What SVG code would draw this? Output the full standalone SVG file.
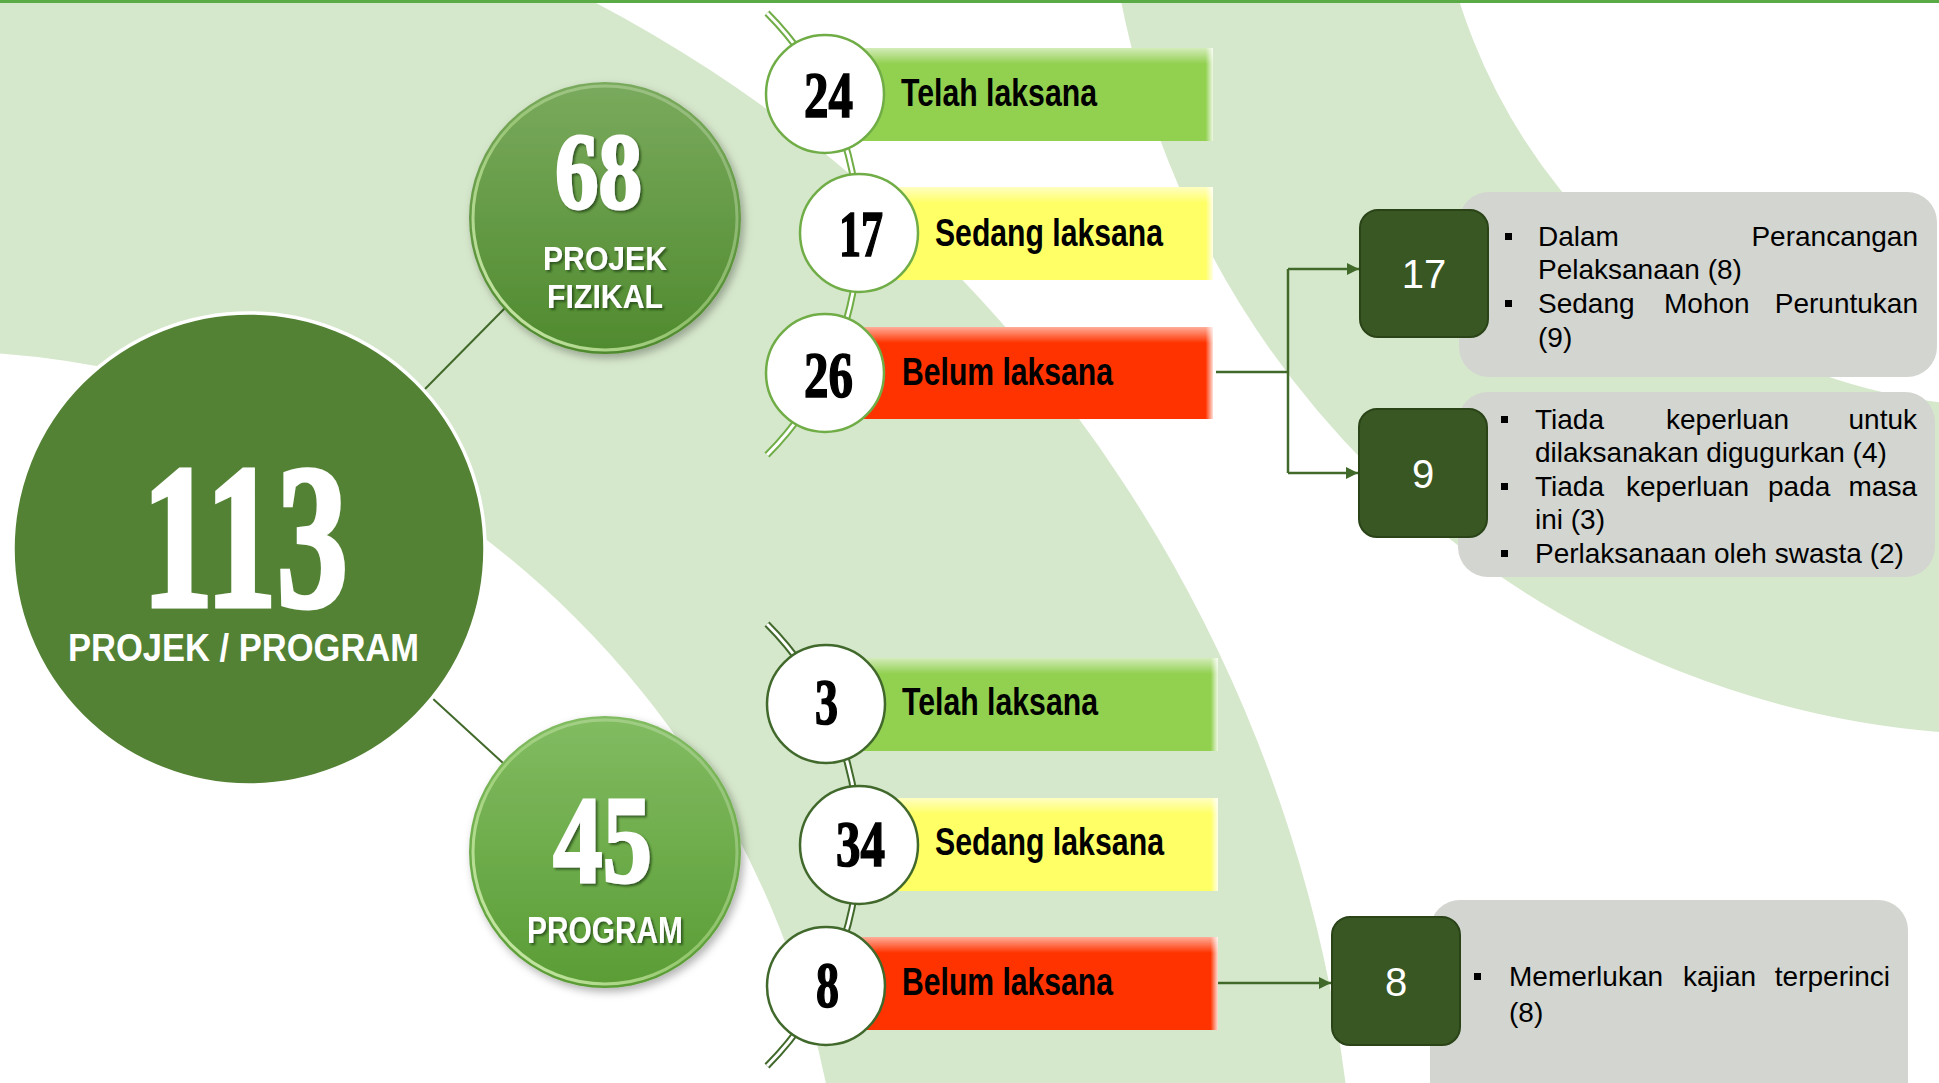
<svg xmlns="http://www.w3.org/2000/svg" width="1939" height="1083" viewBox="0 0 1939 1083">
<style>
.bg{fill:none;stroke:#d6e8cc}
.lbl{font-family:"Liberation Sans",Arial,sans-serif;font-weight:bold;font-size:39px;fill:#000}
.num{font-family:"Liberation Serif","Times New Roman",serif;font-weight:bold;font-size:65px;fill:#000;stroke:#000;stroke-width:1.6}
.big{font-family:"Liberation Serif","Times New Roman",serif;font-weight:bold;fill:#fff;stroke:#fff}
.cap{font-family:"Liberation Sans",Arial,sans-serif;font-weight:bold;fill:#fff}
.ncirT{fill:#fff;stroke:#70ad47;stroke-width:2.5}
.ncirB{fill:#fff;stroke:#41692c;stroke-width:2.5}
.box{fill:#385723;stroke:#2a4418;stroke-width:2}
.boxt{font-family:"Liberation Sans",Arial,sans-serif;font-size:40px;fill:#fff;text-anchor:middle}
.note{fill:#d3d5d0}
.nt{font-family:"Liberation Sans",Arial,sans-serif;font-size:28px;fill:#000}
.end{text-anchor:end}
.conn{stroke:#41692a;stroke-width:2.5;fill:none}
.link{stroke:#41692a;stroke-width:2;fill:none}
</style>
<defs>
<linearGradient id="g68" x1="0" y1="0" x2="0" y2="1"><stop offset="0" stop-color="#7aaa5d"/><stop offset="1" stop-color="#4f8a2e"/></linearGradient>
<linearGradient id="g45" x1="0" y1="0" x2="0" y2="1"><stop offset="0" stop-color="#82bc62"/><stop offset="1" stop-color="#5a9c35"/></linearGradient>
<linearGradient id="rim" x1="0" y1="1" x2="1" y2="0"><stop offset="0" stop-color="#e0f8c0" stop-opacity="0.95"/><stop offset="0.5" stop-color="#b8e290" stop-opacity="0.55"/><stop offset="1" stop-color="#ffffff" stop-opacity="0.15"/></linearGradient>
<linearGradient id="bevT" x1="0" y1="0" x2="0" y2="1"><stop offset="0" stop-color="#fff" stop-opacity="0.6"/><stop offset="1" stop-color="#fff" stop-opacity="0"/></linearGradient>
<linearGradient id="bevR" x1="0" y1="0" x2="1" y2="0"><stop offset="0" stop-color="#fff" stop-opacity="0.05"/><stop offset="1" stop-color="#fff" stop-opacity="0.85"/></linearGradient>
<filter id="sh" x="-20%" y="-20%" width="140%" height="140%"><feDropShadow dx="3" dy="4" stdDeviation="4" flood-color="#000" flood-opacity="0.3"/></filter>
<filter id="ts" x="-10%" y="-20%" width="130%" height="150%"><feDropShadow dx="2" dy="2" stdDeviation="1" flood-color="#1d3a10" flood-opacity="0.7"/></filter>
<marker id="arr" viewBox="0 0 10 10" refX="10" refY="5" markerWidth="5" markerHeight="5" orient="auto" markerUnits="strokeWidth"><path d="M0,0 L10,5 L0,10 z" fill="#41692a"/></marker>
</defs>

<rect x="0" y="0" width="1939" height="1083" fill="#fff"/>
<g id="background">
<circle class="bg" cx="-70" cy="1265" r="1170.5" stroke-width="513"/>
<circle class="bg" cx="2014" cy="-175" r="746" stroke-width="328"/>
<rect x="0" y="0" width="1939" height="3" fill="#5aab46"/>
</g>

<g id="connectors">
<line class="link" x1="425" y1="389" x2="505" y2="308"/>
<line class="link" x1="431" y1="697" x2="503" y2="763"/>
<path d="M767,13 A313,313 0 0 1 767,455" fill="none" stroke="#70ad47" stroke-width="7"/>
<path d="M767,13 A313,313 0 0 1 767,455" fill="none" stroke="#fff" stroke-width="3"/>
<path d="M767,624 A313,313 0 0 1 767,1066" fill="none" stroke="#41692c" stroke-width="7"/>
<path d="M767,624 A313,313 0 0 1 767,1066" fill="none" stroke="#fff" stroke-width="3"/>
<polyline class="conn" points="1216,372 1288,372"/>
<polyline class="conn" points="1288,269 1288,473"/>
<line class="conn" x1="1288" y1="269" x2="1359" y2="269" marker-end="url(#arr)"/>
<line class="conn" x1="1288" y1="473" x2="1358" y2="473" marker-end="url(#arr)"/>
<line class="conn" x1="1218" y1="983" x2="1331" y2="983" marker-end="url(#arr)"/>
</g>

<g id="node-113">
<circle cx="249" cy="549" r="236" fill="#548235" stroke="#fff" stroke-width="3.5"/>
<text class="big" x="142" y="606" font-size="205" stroke-width="5" textLength="206" lengthAdjust="spacingAndGlyphs">113</text>
<text class="cap" x="68" y="661" font-size="39" textLength="351" lengthAdjust="spacingAndGlyphs">PROJEK / PROGRAM</text>
</g>

<g id="node-68">
<circle cx="605" cy="218" r="136" fill="url(#g68)" filter="url(#sh)"/>
<circle cx="605" cy="218" r="132" fill="none" stroke="url(#rim)" stroke-width="3"/>
<g filter="url(#ts)">
<text class="big" x="555" y="208" font-size="108" stroke-width="3" textLength="87" lengthAdjust="spacingAndGlyphs">68</text>
<text class="cap" x="543" y="270" font-size="33" textLength="124" lengthAdjust="spacingAndGlyphs">PROJEK</text>
<text class="cap" x="547" y="308" font-size="33" textLength="116" lengthAdjust="spacingAndGlyphs">FIZIKAL</text>
</g>
</g>

<g id="node-45">
<circle cx="605" cy="852" r="136" fill="url(#g45)" filter="url(#sh)"/>
<circle cx="605" cy="852" r="132" fill="none" stroke="url(#rim)" stroke-width="3"/>
<g filter="url(#ts)">
<text class="big" x="553" y="882" font-size="124" stroke-width="3" textLength="99" lengthAdjust="spacingAndGlyphs">45</text>
<text class="cap" x="527" y="943" font-size="36" textLength="156" lengthAdjust="spacingAndGlyphs">PROGRAM</text>
</g>
</g>

<g id="fiz-telah">
<rect x="860" y="48" width="353" height="93" fill="#92d050"/>
<rect x="860" y="48" width="353" height="16" fill="url(#bevT)"/>
<rect x="1206" y="48" width="7" height="93" fill="url(#bevR)"/>
<circle class="ncirT" cx="825" cy="94" r="59"/>
<text class="num" x="804" y="117" textLength="49" lengthAdjust="spacingAndGlyphs">24</text>
<text class="lbl" x="901" y="106" textLength="196" lengthAdjust="spacingAndGlyphs">Telah laksana</text>
</g>
<g id="fiz-sedang">
<rect x="893" y="187" width="320" height="93" fill="#ffff66"/>
<rect x="893" y="187" width="320" height="16" fill="url(#bevT)"/>
<rect x="1206" y="187" width="7" height="93" fill="url(#bevR)"/>
<circle class="ncirT" cx="859" cy="233" r="59"/>
<text class="num" x="839" y="256" textLength="44" lengthAdjust="spacingAndGlyphs">17</text>
<text class="lbl" x="935" y="246" textLength="228" lengthAdjust="spacingAndGlyphs">Sedang laksana</text>
</g>
<g id="fiz-belum">
<rect x="860" y="327" width="353" height="92" fill="#ff3300"/>
<rect x="860" y="327" width="353" height="16" fill="url(#bevT)"/>
<rect x="1206" y="327" width="7" height="92" fill="url(#bevR)"/>
<circle class="ncirT" cx="825" cy="373" r="59"/>
<text class="num" x="804" y="397" textLength="49" lengthAdjust="spacingAndGlyphs">26</text>
<text class="lbl" x="902" y="385" textLength="211" lengthAdjust="spacingAndGlyphs">Belum laksana</text>
</g>

<g id="prog-telah">
<rect x="860" y="658" width="358" height="93" fill="#92d050"/>
<rect x="860" y="658" width="358" height="16" fill="url(#bevT)"/>
<rect x="1211" y="658" width="7" height="93" fill="url(#bevR)"/>
<circle class="ncirB" cx="826" cy="704" r="59"/>
<text class="num" x="815" y="724" textLength="23" lengthAdjust="spacingAndGlyphs">3</text>
<text class="lbl" x="902" y="715" textLength="196" lengthAdjust="spacingAndGlyphs">Telah laksana</text>
</g>
<g id="prog-sedang">
<rect x="893" y="798" width="325" height="93" fill="#ffff66"/>
<rect x="893" y="798" width="325" height="16" fill="url(#bevT)"/>
<rect x="1211" y="798" width="7" height="93" fill="url(#bevR)"/>
<circle class="ncirB" cx="859" cy="845" r="59"/>
<text class="num" x="836" y="866" textLength="49" lengthAdjust="spacingAndGlyphs">34</text>
<text class="lbl" x="935" y="855" textLength="229" lengthAdjust="spacingAndGlyphs">Sedang laksana</text>
</g>
<g id="prog-belum">
<rect x="860" y="937" width="358" height="93" fill="#ff3300"/>
<rect x="860" y="937" width="358" height="16" fill="url(#bevT)"/>
<rect x="1211" y="937" width="7" height="93" fill="url(#bevR)"/>
<circle class="ncirB" cx="826" cy="986" r="59"/>
<text class="num" x="816" y="1007" textLength="23" lengthAdjust="spacingAndGlyphs">8</text>
<text class="lbl" x="902" y="995" textLength="211" lengthAdjust="spacingAndGlyphs">Belum laksana</text>
</g>

<g id="note-17">
<rect class="note" x="1459" y="192" width="478" height="185" rx="30"/>
<rect class="box" x="1360" y="210" width="128" height="127" rx="18"/>
<text class="boxt" x="1424" y="288">17</text>
<rect x="1505" y="233" width="7" height="7"/>
<text class="nt" x="1538" y="246">Dalam</text>
<text class="nt end" x="1918" y="246">Perancangan</text>
<text class="nt" x="1538" y="279">Pelaksanaan (8)</text>
<rect x="1505" y="300" width="7" height="7"/>
<text class="nt" x="1538" y="313">Sedang</text>
<text class="nt" x="1664" y="313">Mohon</text>
<text class="nt end" x="1918" y="313">Peruntukan</text>
<text class="nt" x="1538" y="347">(9)</text>
</g>

<g id="note-9">
<rect class="note" x="1458" y="392" width="477" height="185" rx="30"/>
<rect class="box" x="1359" y="409" width="128" height="128" rx="18"/>
<text class="boxt" x="1423" y="488">9</text>
<rect x="1501" y="416" width="7" height="7"/>
<text class="nt" x="1535" y="429">Tiada</text>
<text class="nt" x="1666" y="429">keperluan</text>
<text class="nt end" x="1917" y="429">untuk</text>
<text class="nt" x="1535" y="462">dilaksanakan digugurkan (4)</text>
<rect x="1501" y="483" width="7" height="7"/>
<text class="nt" x="1535" y="496">Tiada</text>
<text class="nt" x="1626" y="496">keperluan</text>
<text class="nt" x="1768" y="496">pada</text>
<text class="nt end" x="1917" y="496">masa</text>
<text class="nt" x="1535" y="529">ini (3)</text>
<rect x="1501" y="550" width="7" height="7"/>
<text class="nt" x="1535" y="563">Perlaksanaan oleh swasta (2)</text>
</g>

<g id="note-8">
<rect class="note" x="1430" y="900" width="478" height="215" rx="30"/>
<rect class="box" x="1332" y="917" width="128" height="128" rx="18"/>
<text class="boxt" x="1396" y="996">8</text>
<rect x="1474" y="973" width="7" height="7"/>
<text class="nt" x="1509" y="986">Memerlukan</text>
<text class="nt" x="1683" y="986">kajian</text>
<text class="nt end" x="1890" y="986">terperinci</text>
<text class="nt" x="1509" y="1022">(8)</text>
</g>
</svg>
